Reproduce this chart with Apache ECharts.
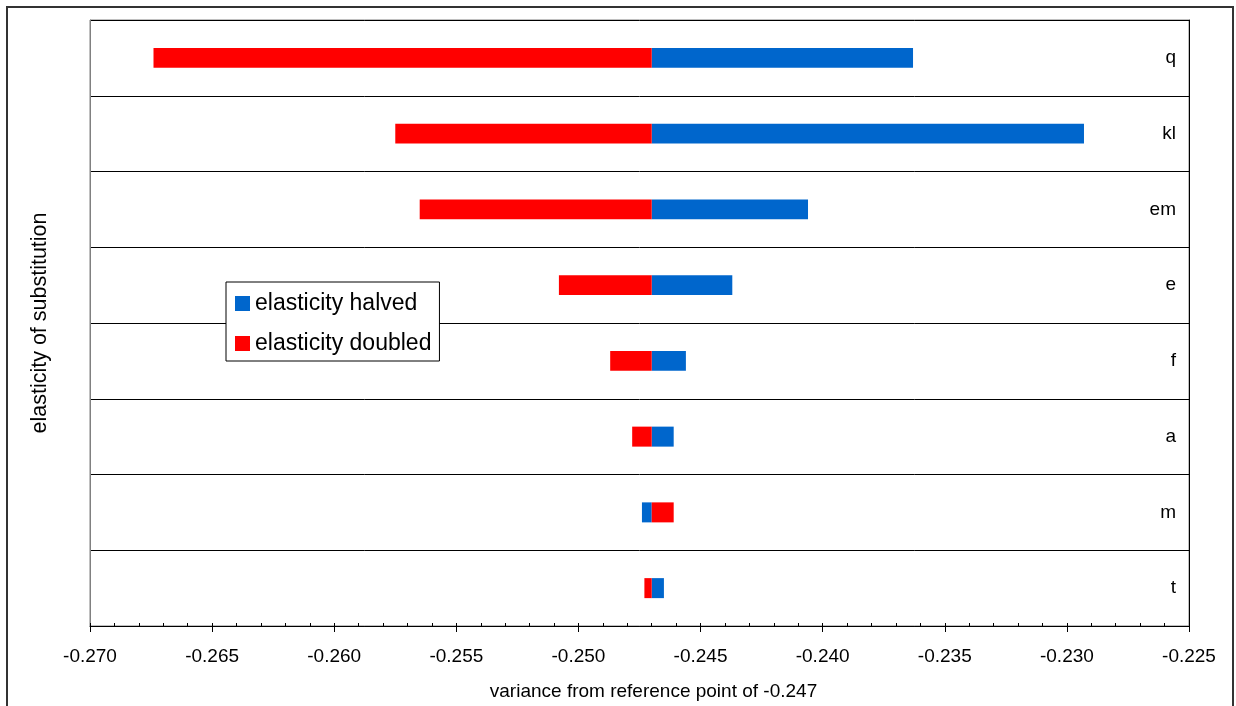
<!DOCTYPE html>
<html>
<head>
<meta charset="utf-8">
<script src="https://cdn.jsdelivr.net/npm/echarts@6/dist/echarts.min.js"></script>
<style>
html,body{margin:0;padding:0;background:#fff;}
#chart{width:1236px;height:706px;}
</style>
</head>
<body>
<div id="chart"></div>
<script>
// ---- data ----
const categories = ['q', 'kl', 'em', 'e', 'f', 'a', 'm', 't'];
const referencePoint = -0.247;
const halvedValues  = [-0.2363, -0.2293, -0.2406, -0.2437, -0.2456, -0.2461, -0.2474, -0.2465];
const doubledValues = [-0.2674, -0.2575, -0.2565, -0.2508, -0.2487, -0.2478, -0.2461, -0.2473];
const seriesNames = ['elasticity halved', 'elasticity doubled'];
const xTitle = 'variance from reference point of -0.247';
const yTitle = 'elasticity of substitution';

const FONT = 'Liberation Sans, Arial, sans-serif';
const BLUE = '#0066CC';
const RED = '#FF0000';

function renderBar(params, api) {
  const yi = api.value(0);
  const v = api.value(1);
  const p0 = api.coord([referencePoint, yi]);
  const p1 = api.coord([v, yi]);
  const h = api.size([0, 1])[1] * 0.264;
  return {
    type: 'rect',
    shape: {
      x: Math.min(p0[0], p1[0]),
      y: p0[1] - h / 2,
      width: Math.abs(p1[0] - p0[0]),
      height: h
    },
    style: { fill: api.visual('color') }
  };
}

const chart = echarts.init(document.getElementById('chart'), null, { renderer: 'canvas' });
chart.setOption({
  animation: false,
  backgroundColor: '#fff',
  textStyle: { fontFamily: FONT, color: '#000' },
  graphic: [{
    type: 'rect',
    shape: { x: 7, y: 7, width: 1226, height: 730 },
    style: { fill: null, stroke: '#333', lineWidth: 2 },
    silent: true,
    z: 100
  }],
  grid: {
    left: 90, right: 47, top: 20, bottom: 80,
    show: true, borderColor: '#808080', borderWidth: 1, backgroundColor: '#fff'
  },
  legend: {
    orient: 'vertical',
    left: 226, top: 282,
    data: seriesNames.map(n => ({ name: n, icon: 'rect' })),
    itemWidth: 15, itemHeight: 15,
    itemGap: 17,
    padding: [10, 8, 6, 9],
    borderColor: '#000', borderWidth: 1,
    backgroundColor: '#fff',
    textStyle: { fontFamily: FONT, fontSize: 23, color: '#000', lineHeight: 20 }
  },
  xAxis: [{
    type: 'value',
    min: -0.270, max: -0.225, interval: 0.005,
    position: 'bottom',
    axisLine: { show: true, lineStyle: { color: '#000', width: 1 } },
    axisTick: { show: true, inside: false, length: 6, lineStyle: { color: '#000' } },
    axisLabel: {
      fontFamily: FONT, fontSize: 19, color: '#000', margin: 21,
      formatter: v => v.toFixed(3)
    },
    splitLine: { show: false },
    name: xTitle,
    nameLocation: 'middle',
    nameGap: 56,
    nameTextStyle: { fontFamily: FONT, fontSize: 19, color: '#000', padding: [0, 0, 0, 28] }
  }, {
    type: 'value',
    min: -0.270, max: -0.225, interval: 0.005,
    position: 'bottom',
    axisLine: { show: false },
    axisTick: { show: true, inside: true, length: 3, lineStyle: { color: '#000' } },
    minorTick: { show: true, splitNumber: 5, length: 3, lineStyle: { color: '#000' } },
    axisLabel: { show: false },
    splitLine: { show: false },
    minorSplitLine: { show: false }
  }],
  yAxis: [{
    type: 'category',
    data: categories,
    inverse: true,
    position: 'left',
    axisLine: { show: true, lineStyle: { color: '#808080', width: 1 } },
    axisTick: { show: false },
    axisLabel: { show: false },
    splitLine: { show: true, lineStyle: { color: '#000', width: 1 } },
    name: yTitle,
    nameLocation: 'middle',
    nameRotate: 90,
    nameGap: 39,
    nameTextStyle: { fontFamily: FONT, fontSize: 21.5, color: '#000' }
  }, {
    type: 'category',
    data: categories,
    inverse: true,
    position: 'right',
    axisLine: { show: true, lineStyle: { color: '#000', width: 1 } },
    axisTick: { show: false },
    axisLabel: { inside: true, margin: 13, fontFamily: FONT, fontSize: 19, color: '#000' },
    splitLine: { show: false }
  }],
  series: [{
    name: seriesNames[0],
    type: 'custom',
    xAxisIndex: 0, yAxisIndex: 0,
    itemStyle: { color: BLUE },
    renderItem: renderBar,
    encode: { x: 1, y: 0 },
    data: halvedValues.map((v, i) => [i, v])
  }, {
    name: seriesNames[1],
    type: 'custom',
    xAxisIndex: 0, yAxisIndex: 0,
    itemStyle: { color: RED },
    renderItem: renderBar,
    encode: { x: 1, y: 0 },
    data: doubledValues.map((v, i) => [i, v])
  }]
});
</script>
</body>
</html>
